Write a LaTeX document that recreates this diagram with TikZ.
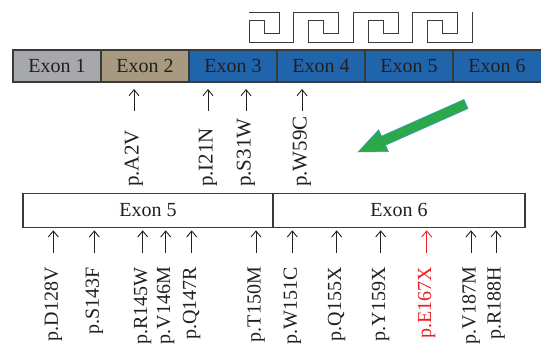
\documentclass[tikz,border=0pt]{standalone}
\usepackage{fontspec}
\setmainfont{Liberation Serif}
\usetikzlibrary{shapes,calc,arrows.meta,positioning}
\definecolor{exgray}{HTML}{A6A8AB}
\definecolor{extan}{HTML}{A89A80}
\definecolor{exblue}{HTML}{2065AC}
\definecolor{txt}{HTML}{231F20}
\definecolor{lin}{HTML}{3A3A3A}
\definecolor{mutred}{HTML}{EE1C25}
\definecolor{arrgreen}{HTML}{2BA84A}
\definecolor{arredge}{HTML}{3C9BD6}

\begin{document}
\begin{tikzpicture}[x=1pt, y=-1pt, node distance=0pt,
    exon_style/.style={rectangle, draw=lin, line width=1.1pt, minimum width=88pt, minimum height=32pt, outer sep=0pt, inner sep=0pt, text=txt, font=\fontsize{20}{24}\selectfont},
    box_style/.style={exon_style, fill=white, minimum height=34pt},
    mut_style/.style={rotate=90, inner sep=0pt, text=txt, font=\fontsize{20}{24}\selectfont},
    top_style/.style={mut_style, font=\fontsize{21}{25}\selectfont},
    arrow_style/.style={draw=txt, line width=0.9pt, -{Straight Barb[length=6pt,width=10pt]}},
    key_style/.style={draw=lin, line width=1pt},
    green_style/.style={fill=arrgreen, draw=arredge, line width=0.5pt}]

	\useasboundingbox (0,0) rectangle (541,346);

	\node[exon_style, fill=exgray] (ex1) at (57,66) {Exon 1};
	\node[exon_style, fill=extan, right=of ex1] (ex2) {Exon 2};
	\node[exon_style, fill=exblue, right=of ex2] (ex3) {Exon 3};
	\node[exon_style, fill=exblue, right=of ex3] (ex4) {Exon 4};
	\node[exon_style, fill=exblue, right=of ex4] (ex5) {Exon 5};
	\node[exon_style, fill=exblue, right=of ex5, minimum width=91pt] (ex6) {\hspace*{-3pt}Exon 6};

	\draw[key_style] (249,12) \foreach \k [evaluate=\k as \xs using 234+59.5*\k] in {0,...,3}{
		-- (\xs+45,12) -- (\xs+45,33.5) -- (\xs+30,33.5) -- (\xs+30,20.5) -- (\xs+15,20.5)
		-- (\xs+15,42) -- (\xs+59.5,42) -- (\xs+59.5,12)};

	\node[top_style, anchor=west] (mA2V) at (134,187) {p.A2V};
	\node[top_style, anchor=west] (mI21N) at (208,187) {p.I21N};
	\node[top_style, anchor=west] (mS31W) at (246,187) {p.S31W};
	\node[top_style, anchor=west] (mW59C) at (302,187) {p.W59C};
	\draw[arrow_style, shorten >=7pt] (134,111) coordinate (sA2V) -- (sA2V |- ex2.south);
	\draw[arrow_style, shorten >=7pt] (208,111) coordinate (sI21N) -- (sI21N |- ex3.south);
	\draw[arrow_style, shorten >=7pt] (246,111) coordinate (sS31W) -- (sS31W |- ex3.south);
	\draw[arrow_style, shorten >=7pt] (302,111) coordinate (sW59C) -- (sW59C |- ex4.south);

	\coordinate (gtip) at (358,152);
	\coordinate (gtail) at (466,104);
	\coordinate (gbase) at ($(gtip)!28pt!(gtail)$);
	\filldraw[green_style] (gtip) -- ($(gbase)!12pt!90:(gtip)$) -- ($(gbase)!5pt!90:(gtip)$)
		-- ($(gtail)!5pt!90:(gbase)$) -- ($(gtail)!5pt!-90:(gbase)$)
		-- ($(gbase)!5pt!-90:(gtip)$) -- ($(gbase)!12pt!-90:(gtip)$) -- cycle;

	\node[box_style, minimum width=250pt] (box5) at (148,210.3) {Exon 5};
	\node[box_style, minimum width=252pt, right=of box5] (box6) {Exon 6};

	\node[mut_style, anchor=east] (mD128V) at (53.3,267) {p.D128V};
	\node[mut_style, anchor=east] (mS143F) at (94.3,267) {p.S143F};
	\node[mut_style, anchor=east] (mR145W) at (142.7,267) {p.R145W};
	\node[mut_style, anchor=east] (mV146M) at (165.7,267) {p.V146M};
	\node[mut_style, anchor=east] (mQ147R) at (191.7,267) {p.Q147R};
	\node[mut_style, anchor=east] (mT150M) at (256,267) {p.T150M};
	\node[mut_style, anchor=east] (mW151C) at (292.3,267) {p.W151C};
	\node[mut_style, anchor=east] (mQ155X) at (336.7,267) {p.Q155X};
	\node[mut_style, anchor=east] (mY159X) at (380.7,267) {p.Y159X};
	\node[mut_style, anchor=east, text=mutred] (mE167X) at (426.7,267) {p.E167X};
	\node[mut_style, anchor=east] (mV187M) at (471,267) {p.V187M};
	\node[mut_style, anchor=east] (mR188H) at (496,267) {p.R188H};

	\draw[arrow_style, shorten >=3pt] (53.3,253) coordinate (sD128V) -- (sD128V |- box5.south);
	\draw[arrow_style, shorten >=3pt] (94.3,253) coordinate (sS143F) -- (sS143F |- box5.south);
	\draw[arrow_style, shorten >=3pt] (142.7,253) coordinate (sR145W) -- (sR145W |- box5.south);
	\draw[arrow_style, shorten >=3pt] (165.7,253) coordinate (sV146M) -- (sV146M |- box5.south);
	\draw[arrow_style, shorten >=3pt] (191.7,253) coordinate (sQ147R) -- (sQ147R |- box5.south);
	\draw[arrow_style, shorten >=3pt] (256,253) coordinate (sT150M) -- (sT150M |- box5.south);
	\draw[arrow_style, shorten >=3pt] (292.3,253) coordinate (sW151C) -- (sW151C |- box6.south);
	\draw[arrow_style, shorten >=3pt] (336.7,253) coordinate (sQ155X) -- (sQ155X |- box6.south);
	\draw[arrow_style, shorten >=3pt] (380.7,253) coordinate (sY159X) -- (sY159X |- box6.south);
	\draw[arrow_style, shorten >=3pt, draw=mutred] (426.7,253) coordinate (sE167X) -- (sE167X |- box6.south);
	\draw[arrow_style, shorten >=3pt] (471,253) coordinate (sV187M) -- (sV187M |- box6.south);
	\draw[arrow_style, shorten >=3pt] (496,253) coordinate (sR188H) -- (sR188H |- box6.south);
\end{tikzpicture}
\end{document}
